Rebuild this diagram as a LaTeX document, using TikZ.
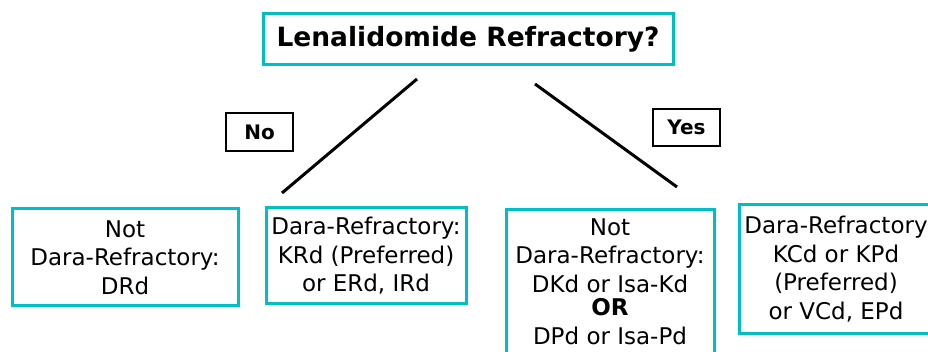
\documentclass[tikz,border=0pt]{standalone}
\usepackage{fontspec}
\setmainfont{DejaVu Sans}
\usepackage{tikz}
\usetikzlibrary{positioning}
\usepackage{xcolor}
\definecolor{cTeal}{RGB}{0,190,196}
\tikzset{
  basebox/.style={rectangle, draw=cTeal, line width=3pt, align=center,
                  inner sep=0pt, font=\fontsize{23}{28.5}\selectfont},
  titlebox/.style={basebox, font=\fontsize{26.5}{30}\selectfont\bfseries},
  answerbox/.style={rectangle, draw=black, line width=2.5pt, inner sep=0pt,
                    font=\fontsize{20}{22}\selectfont\bfseries},
  branch/.style={line width=3pt, color=black}
}

\begin{document}
\begin{tikzpicture}[x=1pt, y=-1pt]
  \useasboundingbox (0,0) rectangle (928,352);
  \clip (0,0) rectangle (928,352);

  % Question
  \node[titlebox, minimum width=410pt, minimum height=51pt] (quest) at (468,39.5)
      {Lenalidomide Refractory?};

  % Answers
  \node[answerbox, minimum width=67pt, minimum height=38pt] (no) at (259.5,132) {No};
  \node[answerbox, minimum width=67pt, minimum height=37pt] (yes) at (686.5,127.5) {Yes};

  % Regimens
  \node[basebox, minimum width=226pt, minimum height=97pt] (notdaraA) at (125,257.5)
      {Not\\Dara-Refractory:\\DRd};
  \node[basebox, minimum width=200pt, minimum height=96pt] (daraA) at (366,256)
      {Dara-Refractory:\\KRd (Preferred)\\or ERd, IRd};
  \node[basebox, minimum width=208pt, minimum height=170pt,
        inner ysep=9pt, anchor=north] (notdaraB) at (610,208)
      {Not\\Dara-Refractory:\\DKd or Isa-Kd\\[-5pt]\textbf{OR}\\DPd or Isa-Pd\\[40pt]};
  \node[basebox, minimum width=194pt, minimum height=128pt] (daraB) at (836,269)
      {Dara-Refractory\\KCd or KPd\\(Preferred)\\or VCd, EPd};

  % Branches
  \coordinate (nostart) at (417,79);
  \coordinate (noend) at (282,193);
  \coordinate (yesstart) at (535,84);
  \coordinate (yesend) at (677,187);
  \draw[branch] (nostart) -- (noend);
  \draw[branch] (yesstart) -- (yesend);
\end{tikzpicture}
\end{document}
